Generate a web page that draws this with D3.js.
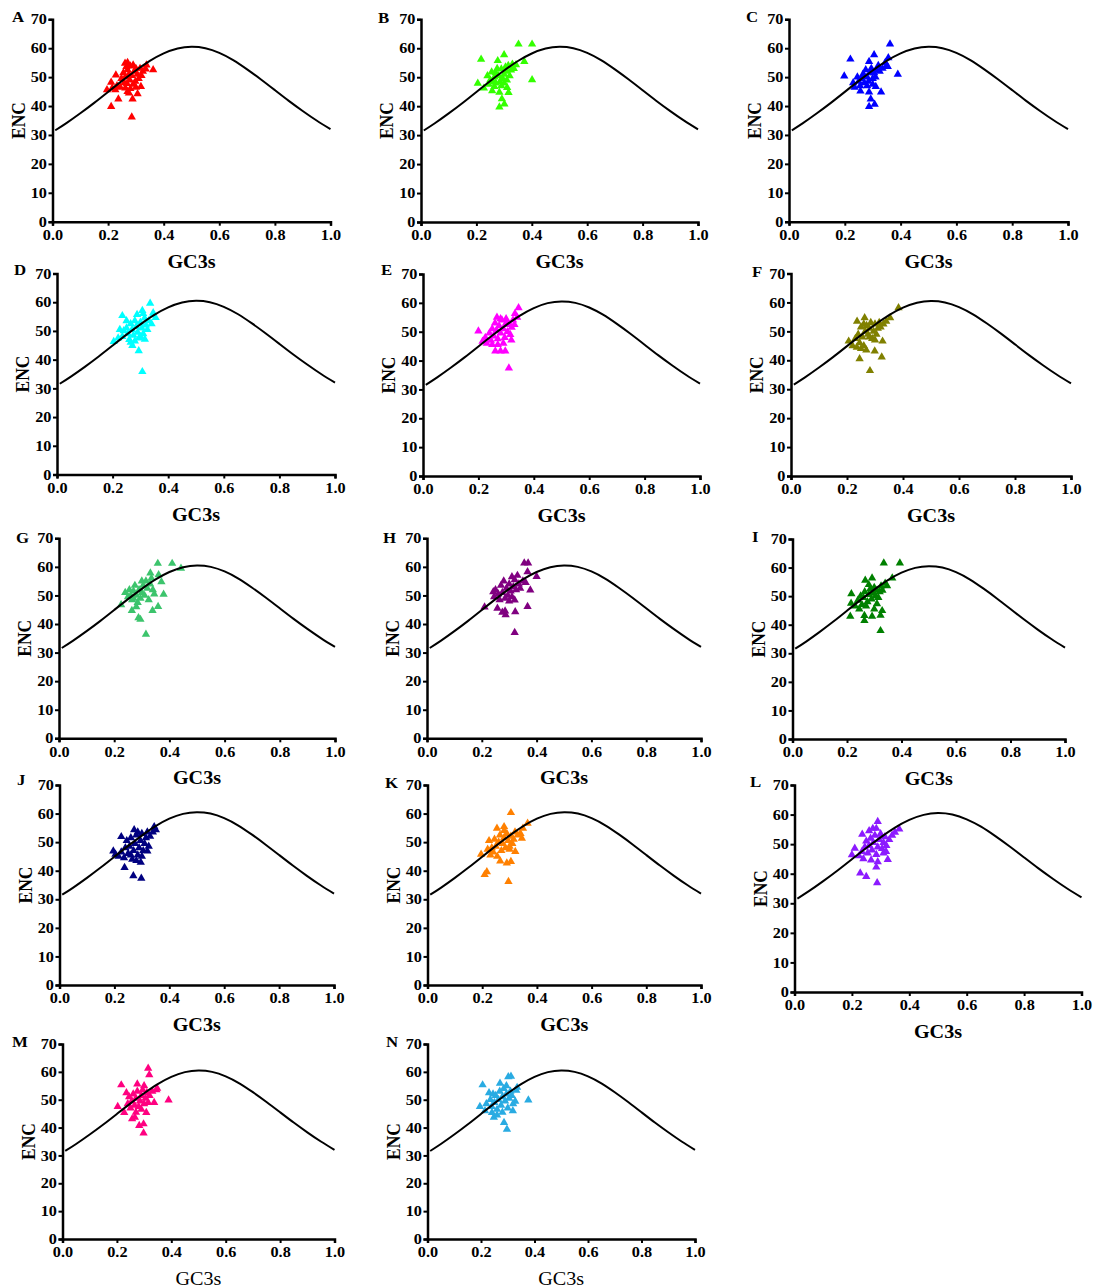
<!DOCTYPE html>
<html>
<head>
<meta charset="utf-8">
<script src="https://cdn.jsdelivr.net/npm/d3@7"></script>
<style>
  body { margin: 0; background: #fff; }
</style>
</head>
<body>
<div id="chart"></div>
<script>
// ENC vs GC3s, one array of [GC3s, ENC] per sample
const ptsA = [[0.196,45.6],[0.211,39.8],[0.211,48.2],[0.228,50.7],[0.226,45.6],[0.237,42.4],[0.215,46.2],[0.232,47.0],[0.244,46.5],
  [0.261,54.8],[0.266,53.6],[0.255,51.5],[0.262,50.0],[0.27,52.5],[0.275,51.0],[0.278,49.0],[0.268,47.8],[0.262,46.2],[0.27,45.0],
  [0.28,46.0],[0.29,47.5],[0.285,50.5],[0.295,52.0],[0.30,53.0],[0.305,51.0],[0.31,49.5],[0.298,48.5],[0.30,46.5],[0.285,36.2],
  [0.288,42.4],[0.306,44.2],[0.318,46.7],[0.32,50.5],[0.325,52.0],[0.315,53.0],[0.338,54.2],[0.335,52.8],[0.362,52.5],[0.275,44.5],
  [0.258,48.0],[0.248,49.5],[0.28,53.8],[0.29,54.2],[0.27,55.0]];
const ptsB = [[0.217,56.2],[0.352,61.4],[0.401,61.4],[0.401,49.1],[0.205,47.9],[0.227,46.2],[0.300,57.7],[0.283,39.7],[0.301,40.7],
  [0.292,42.5],[0.283,44.8],[0.311,46.4],[0.316,44.7],[0.257,45.3],[0.373,55.4],[0.343,54.3],[0.277,55.7],
  [0.24,50.5],[0.25,49.0],[0.245,47.5],[0.26,48.5],[0.265,50.0],[0.27,51.5],[0.275,53.0],[0.28,50.5],[0.285,48.5],[0.29,47.0],
  [0.295,49.5],[0.30,51.0],[0.305,53.5],[0.31,52.0],[0.315,54.0],[0.32,50.5],[0.325,52.5],[0.33,54.5],[0.335,53.0],[0.29,52.8],
  [0.27,48.0],[0.255,51.8],[0.30,48.0],[0.31,49.0],[0.265,46.8]];
const ptsC = [[0.22,56.2],[0.362,61.4],[0.39,51.0],[0.198,50.4],[0.305,57.7],[0.287,39.8],[0.307,40.6],[0.293,42.4],[0.287,44.8],
  [0.256,45.2],[0.33,44.8],[0.311,46.7],[0.354,53.6],[0.356,56.7],[0.287,55.4],
  [0.23,48.0],[0.235,46.5],[0.245,50.0],[0.25,48.5],[0.255,47.0],[0.26,49.5],[0.265,51.0],[0.27,48.0],[0.275,52.5],[0.28,50.0],
  [0.285,48.5],[0.29,51.5],[0.295,53.0],[0.30,49.5],[0.305,51.5],[0.31,50.0],[0.315,52.5],[0.32,54.0],[0.325,52.0],[0.335,53.0],
  [0.345,55.0],[0.28,47.0],[0.27,50.5],[0.30,47.5],[0.35,54.0]];
const ptsD = [[0.235,55.3],[0.335,59.6],[0.307,35.8],[0.294,43.1],[0.271,44.9],[0.204,46.3],[0.226,50.5],[0.316,47.1],[0.355,54.6],
  [0.346,56.3],[0.307,57.1],[0.288,55.7],
  [0.22,47.5],[0.235,48.0],[0.24,50.0],[0.25,51.0],[0.255,49.0],[0.26,47.0],[0.265,52.5],[0.27,50.5],[0.275,48.5],[0.28,53.5],
  [0.285,51.5],[0.29,49.5],[0.295,47.5],[0.30,53.0],[0.305,51.0],[0.31,49.0],[0.315,54.5],[0.32,52.0],[0.325,50.5],[0.33,53.5],
  [0.34,52.5],[0.345,55.5],[0.28,46.5],[0.265,46.0],[0.30,48.0],[0.31,56.0],[0.25,53.5]];
const ptsE = [[0.2,50.2],[0.345,58.3],[0.31,37.4],[0.261,43.3],[0.28,43.3],[0.297,43.3],[0.319,47.1],[0.332,56.3],[0.215,46.7],
  [0.267,55.0],
  [0.225,48.0],[0.23,46.0],[0.24,49.5],[0.245,47.0],[0.25,51.0],[0.255,48.5],[0.26,53.0],[0.265,50.5],[0.27,47.5],[0.275,52.0],
  [0.28,49.5],[0.285,54.0],[0.29,51.0],[0.295,48.0],[0.30,53.0],[0.305,50.0],[0.31,52.5],[0.315,49.0],[0.32,51.5],[0.325,54.0],
  [0.33,52.5],[0.34,55.0],[0.27,45.5],[0.29,46.0],[0.25,45.5],[0.30,54.5],[0.28,54.5]];
const ptsF = [[0.384,58.1],[0.282,36.4],[0.245,40.5],[0.324,41.1],[0.299,43.2],[0.206,46.6],[0.236,53.5],[0.263,54.7],[0.269,43.5],
  [0.327,46.6],[0.354,54.7],
  [0.22,45.0],[0.23,47.5],[0.235,44.5],[0.24,49.0],[0.245,46.0],[0.25,51.5],[0.255,48.0],[0.26,45.0],[0.265,50.0],[0.27,52.0],
  [0.275,49.0],[0.28,51.0],[0.285,53.0],[0.29,47.5],[0.295,50.0],[0.30,52.5],[0.305,49.0],[0.31,51.0],[0.315,53.0],[0.32,51.5],
  [0.33,52.5],[0.34,53.5],[0.25,44.0],[0.28,48.0],[0.30,47.0],[0.26,52.5]];
const ptsG = [[0.358,61.2],[0.41,61.2],[0.442,59.5],[0.315,36.4],[0.295,41.6],[0.288,42.2],[0.264,44.7],[0.339,44.7],[0.359,46.1],
  [0.379,50.4],[0.371,54.8],[0.361,57.2],[0.331,57.8],[0.225,46.7],
  [0.24,51.0],[0.25,49.5],[0.255,52.0],[0.26,50.0],[0.265,48.5],[0.27,51.5],[0.275,53.5],[0.28,50.0],[0.285,47.5],[0.29,52.0],
  [0.295,49.0],[0.30,51.0],[0.305,53.5],[0.31,50.0],[0.315,55.0],[0.32,52.5],[0.325,48.5],[0.33,54.0],[0.335,56.0],[0.34,52.0],
  [0.345,50.5],[0.28,46.0],[0.3,55.0],[0.27,49.0]];
const ptsH = [[0.21,45.9],[0.32,37.0],[0.322,44.3],[0.287,43.2],[0.275,44.1],[0.257,45.5],[0.367,46.1],[0.355,61.3],[0.369,61.3],
  [0.367,58.3],[0.4,56.6],[0.377,51.9],[0.32,48.4],[0.242,51.3],
  [0.245,49.5],[0.25,52.0],[0.26,50.5],[0.265,48.5],[0.27,53.5],[0.275,51.0],[0.28,55.0],[0.285,49.0],[0.29,52.5],[0.295,50.0],
  [0.30,54.0],[0.305,51.5],[0.31,49.5],[0.315,53.0],[0.32,55.5],[0.325,52.0],[0.33,57.0],[0.335,54.0],[0.34,52.5],[0.35,55.0],
  [0.36,54.5],[0.285,44.5],[0.30,48.0],[0.31,56.5]];
const ptsI = [[0.335,61.6],[0.394,61.6],[0.323,37.9],[0.216,50.8],[0.215,47.5],[0.212,42.9],[0.264,43.2],[0.264,41.4],[0.292,42.9],
  [0.31,47.3],[0.323,43.3],[0.329,44.9],[0.366,56.3],[0.347,53.6],[0.267,55.5],[0.292,56.3],
  [0.23,46.5],[0.24,48.5],[0.245,45.5],[0.25,50.0],[0.255,47.0],[0.26,49.5],[0.265,51.5],[0.27,46.5],[0.275,48.0],[0.28,50.5],
  [0.285,52.5],[0.29,49.0],[0.295,51.0],[0.30,53.0],[0.305,50.0],[0.31,52.0],[0.315,49.5],[0.32,51.5],[0.325,53.5],[0.33,52.0],
  [0.34,54.5],[0.28,54.0],[0.30,45.5]];
const ptsJ = [[0.225,51.9],[0.269,38.2],[0.298,37.3],[0.237,41.1],[0.296,42.9],[0.196,46.9],[0.204,45.7],[0.345,55.4],[0.351,54.3],
  [0.272,54.3],[0.32,46.9],
  [0.215,45.0],[0.225,46.5],[0.235,44.5],[0.24,48.0],[0.245,50.5],[0.25,46.0],[0.255,48.5],[0.26,51.5],[0.265,44.0],[0.27,47.0],
  [0.275,49.5],[0.28,52.5],[0.285,45.5],[0.29,48.0],[0.295,50.5],[0.30,53.0],[0.305,47.0],[0.31,49.5],[0.315,51.5],[0.32,53.5],
  [0.325,48.5],[0.33,52.0],[0.34,53.5],[0.28,43.5],[0.26,45.5],[0.30,45.0],[0.285,53.5]];
const ptsK = [[0.305,60.3],[0.296,36.2],[0.209,38.6],[0.217,39.6],[0.29,42.7],[0.305,43.2],[0.266,43.4],[0.321,46.7],[0.345,51.3],
  [0.366,56.6],[0.349,54.8],[0.196,45.7],[0.254,54.8],[0.28,55.4],
  [0.22,47.5],[0.225,50.5],[0.23,45.5],[0.235,48.0],[0.24,46.5],[0.245,51.0],[0.25,48.5],[0.255,45.0],[0.26,50.0],[0.265,52.5],
  [0.27,47.0],[0.275,49.5],[0.28,51.5],[0.285,48.0],[0.29,53.0],[0.295,50.5],[0.30,47.5],[0.305,52.0],[0.31,49.5],[0.315,51.0],
  [0.32,53.5],[0.33,52.5],[0.34,53.0],[0.28,54.0],[0.30,48.5]];
const ptsL = [[0.29,57.6],[0.288,36.9],[0.229,40.2],[0.25,39.0],[0.285,42.2],[0.325,44.8],[0.21,48.6],[0.2,46.4],[0.365,55.1],
  [0.236,53.3],[0.273,55.3],[0.285,55.3],[0.267,44.6],[0.319,47.5],
  [0.225,46.0],[0.235,47.5],[0.24,45.0],[0.245,49.0],[0.25,51.0],[0.255,47.0],[0.26,49.5],[0.265,52.0],[0.27,48.0],[0.275,50.5],
  [0.28,53.0],[0.285,46.5],[0.29,49.0],[0.295,51.5],[0.30,53.5],[0.305,48.5],[0.31,50.5],[0.315,52.5],[0.32,49.5],[0.33,51.5],
  [0.34,53.0],[0.35,54.0],[0.29,44.0],[0.31,47.0],[0.26,54.5]];
const ptsM = [[0.315,61.3],[0.319,58.9],[0.298,38.0],[0.282,40.7],[0.298,41.3],[0.256,43.1],[0.266,43.7],[0.39,49.9],[0.337,49.0],
  [0.308,45.4],[0.216,55.3],[0.203,47.5],[0.275,55.6],[0.348,54.1],[0.227,45.4],
  [0.235,52.5],[0.24,48.5],[0.245,51.0],[0.25,47.0],[0.255,49.5],[0.26,52.0],[0.265,48.0],[0.27,50.5],[0.275,53.0],[0.28,47.5],
  [0.285,49.5],[0.29,51.5],[0.295,53.5],[0.30,48.5],[0.305,50.5],[0.31,52.5],[0.315,49.0],[0.32,51.5],[0.33,53.0],[0.345,53.5],
  [0.29,46.5],[0.27,45.5],[0.30,55.0]];
const ptsN = [[0.206,55.3],[0.302,58.2],[0.312,58.4],[0.297,39.4],[0.286,41.8],[0.248,43.7],[0.241,45.4],[0.319,46.0],[0.377,49.9],
  [0.332,53.4],[0.335,54.4],[0.196,47.5],[0.271,55.9],[0.328,49.4],
  [0.215,46.0],[0.22,48.5],[0.23,52.5],[0.235,50.0],[0.24,47.5],[0.245,52.0],[0.25,49.0],[0.255,51.5],[0.26,46.5],[0.265,50.0],
  [0.27,53.0],[0.275,48.0],[0.28,51.0],[0.285,54.0],[0.29,49.5],[0.295,52.0],[0.30,47.0],[0.305,50.5],[0.31,53.0],[0.315,51.5],
  [0.32,48.5],[0.28,45.5],[0.26,44.5],[0.295,55.0]];

// expected-ENC curve
const curveGC3s = [0.01,0.05,0.1,0.15,0.2,0.25,0.3,0.35,0.4,0.45,0.5,0.55,0.6,0.65,0.7,0.75,0.8,0.85,0.9,0.95,1.0];
const curveENC  = [31.6,34.1,37.5,41.1,44.9,48.7,52.3,55.6,58.2,59.9,60.5,60.0,58.4,55.9,52.7,49.2,45.5,41.8,38.3,35.0,32.0];

const xTicks = [0, 0.2, 0.4, 0.6, 0.8, 1.0];
const yTicks = [0, 10, 20, 30, 40, 50, 60, 70];

// layout: [x of 0.0, x of 1.0, y of 70, y of 0]
const panels = [
  { id: "A", pts: ptsA, color: "#ff0000", box: [52.5, 330.5, 19.3, 221.7], lab: [12, 22] },
  { id: "B", pts: ptsB, color: "#33ff00", box: [421, 698, 19.3, 222], lab: [378, 23] },
  { id: "C", pts: ptsC, color: "#0000ff", box: [789, 1068, 19.3, 221.7], lab: [746, 22] },
  { id: "D", pts: ptsD, color: "#00ffff", box: [57, 335, 273.5, 474.5], lab: [14, 275] },
  { id: "E", pts: ptsE, color: "#ff00ff", box: [423, 700, 274, 476], lab: [381, 275] },
  { id: "F", pts: ptsF, color: "#808000", box: [791, 1071, 273.5, 476], lab: [752, 277] },
  { id: "G", pts: ptsG, color: "#3cc46c", box: [59, 335, 538.3, 738.3], lab: [16, 543] },
  { id: "H", pts: ptsH, color: "#800080", box: [427, 701, 538.3, 738.3], lab: [383, 543] },
  { id: "I", pts: ptsI, color: "#008000", box: [792.5, 1065, 539, 739], lab: [752, 542] },
  { id: "J", pts: ptsJ, color: "#000080", box: [59.5, 334, 785, 985], lab: [17, 785] },
  { id: "K", pts: ptsK, color: "#ff8000", box: [427.5, 701, 785, 985], lab: [385, 788] },
  { id: "L", pts: ptsL, color: "#8c1aff", box: [794.5, 1081.5, 785, 992], lab: [750, 787] },
  { id: "M", pts: ptsM, color: "#ff0080", box: [62.5, 334.5, 1044, 1239], lab: [12, 1047], thin: true },
  { id: "N", pts: ptsN, color: "#29abe2", box: [427.5, 695, 1044, 1239], lab: [386, 1047], thin: true }
];

const serif = "'Liberation Serif', 'Times New Roman', serif";
const stretch = 1.12;

const svg = d3.select("#chart")
  .append("svg")
  .attr("width", 1095)
  .attr("height", 1288)
  .style("background", "#fff");

const curvePts = curveGC3s.map((g, i) => [g, curveENC[i]]);

panels.forEach(p => {
  const [x0, x1, yt, yb] = p.box;
  const x = d3.scaleLinear().domain([0, 1]).range([x0, x1]);
  const y = d3.scaleLinear().domain([0, 70]).range([yb, yt]);
  const g = svg.append("g");

  // points first, curve on top
  g.selectAll(".pt")
    .data(p.pts)
    .join("path")
    .attr("class", "pt")
    .attr("d", d3.symbol().type(d3.symbolTriangle).size(30))
    .attr("transform", d => `translate(${x(d[0])},${y(d[1])})`)
    .attr("fill", p.color);

  g.append("path")
    .datum(curvePts)
    .attr("fill", "none")
    .attr("stroke", "#000")
    .attr("stroke-width", 2)
    .attr("d", d3.line().x(d => x(d[0])).y(d => y(d[1])).curve(d3.curveNatural));

  const xa = g.append("g")
    .attr("transform", `translate(0,${yb})`)
    .call(d3.axisBottom(x).tickValues(xTicks).tickFormat(d3.format(".1f")).tickSize(4).tickPadding(4));
  const ya = g.append("g")
    .attr("transform", `translate(${x0},0)`)
    .call(d3.axisLeft(y).tickValues(yTicks).tickSize(4).tickPadding(1));

  [xa, ya].forEach(a => {
    a.select(".domain").attr("stroke", "#000").attr("stroke-width", 2.5);
    a.selectAll(".tick line").attr("stroke", "#000").attr("stroke-width", 2);
    a.selectAll(".tick text")
      .attr("font-family", serif)
      .attr("font-size", 14.5)
      .attr("font-weight", "bold")
      .attr("fill", "#000")
      .attr("transform", `scale(${stretch},1)`);
  });

  g.append("text")
    .attr("transform", `translate(${(x0 + x1) / 2},${yb + 46}) scale(${stretch},1)`)
    .attr("text-anchor", "middle")
    .attr("font-family", serif)
    .attr("font-size", 18)
    .attr("font-weight", p.thin ? "normal" : "bold")
    .text("GC3s");

  g.append("text")
    .attr("transform", `translate(${x0 - 28},${(yt + yb) / 2}) scale(${stretch},1) rotate(-90)`)
    .attr("text-anchor", "middle")
    .attr("font-family", serif)
    .attr("font-size", 17.5)
    .attr("font-weight", "bold")
    .text("ENC");

  g.append("text")
    .attr("transform", `translate(${p.lab[0]},${p.lab[1]}) scale(${stretch},1)`)
    .attr("font-family", serif)
    .attr("font-size", 15)
    .attr("font-weight", "bold")
    .text(p.id);
});
</script>
</body>
</html>
